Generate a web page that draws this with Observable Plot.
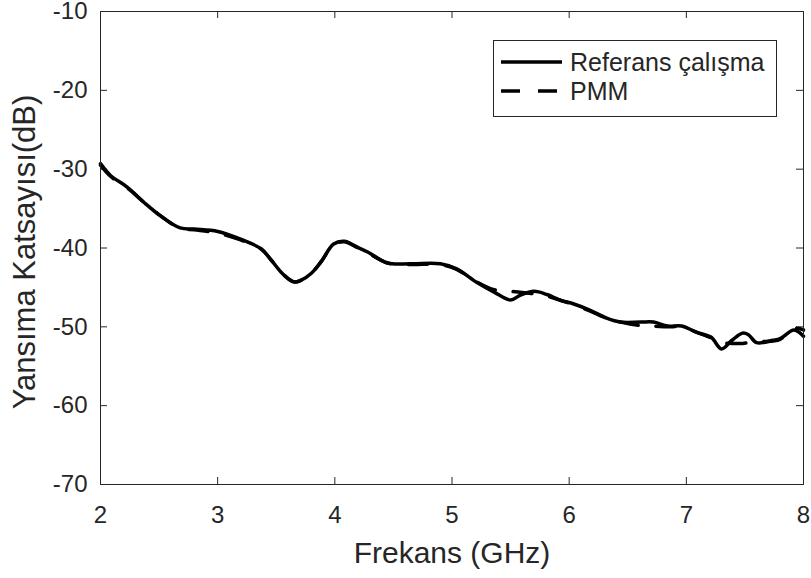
<!DOCTYPE html>
<html>
<head>
<meta charset="utf-8">
<script src="https://cdn.jsdelivr.net/npm/d3@7"></script>
<script src="https://cdn.jsdelivr.net/npm/@observablehq/plot@0.6"></script>
<style>
  html, body { margin: 0; padding: 0; background: #fff; }
  #wrap { position: relative; width: 811px; height: 578px; }
  #legend { position: absolute; left: 493px; top: 40px; }
</style>
</head>
<body>
<div id="wrap"></div>
<script>
// ---- data ----
const xTicks = [2, 3, 4, 5, 6, 7, 8];
const yTicks = [-70, -60, -50, -40, -30, -20, -10];

const refFreq = [2.0, 2.085, 2.23, 2.37, 2.51, 2.68, 2.80, 3.0, 3.19, 3.37, 3.45, 3.55, 3.65, 3.71, 3.8, 3.88, 3.99, 4.08, 4.19, 4.28, 4.45, 4.65, 4.90, 5.04, 5.21, 5.36, 5.50, 5.58, 5.70, 5.81, 5.92, 6.04, 6.18, 6.32, 6.44, 6.61, 6.72, 6.84, 6.96, 7.09, 7.21, 7.30, 7.39, 7.48, 7.53, 7.60, 7.74, 7.80, 7.92, 8.0];
const refDb = [-29.3, -30.8, -32.3, -34.2, -35.9, -37.45, -37.6, -37.9, -38.85, -40.1, -41.4, -43.2, -44.3, -44.1, -43.2, -41.8, -39.5, -39.15, -39.9, -40.5, -41.9, -42.0, -42.0, -42.65, -44.35, -45.6, -46.6, -46.0, -45.5, -45.9, -46.6, -47.1, -47.9, -48.9, -49.4, -49.4, -49.4, -49.9, -49.9, -50.7, -51.3, -52.8, -51.7, -50.8, -51.0, -52.0, -51.7, -51.5, -50.4, -51.2];

const pmmFreq = [2.0, 2.085, 2.23, 2.37, 2.51, 2.68, 2.80, 3.0, 3.19, 3.37, 3.45, 3.55, 3.65, 3.71, 3.8, 3.88, 3.99, 4.08, 4.19, 4.28, 4.45, 4.65, 4.90, 5.04, 5.21, 5.36, 5.44, 5.50, 5.58, 5.64, 5.70, 5.81, 5.92, 6.04, 6.18, 6.32, 6.44, 6.61, 6.72, 6.84, 6.96, 7.09, 7.21, 7.30, 7.39, 7.48, 7.53, 7.60, 7.74, 7.80, 7.92, 8.0];
const pmmDb = [-29.5, -30.9, -32.4, -34.2, -35.9, -37.5, -37.7, -38.1, -38.95, -40.1, -41.4, -43.2, -44.3, -44.1, -43.2, -41.8, -39.6, -39.2, -39.9, -40.6, -41.9, -42.1, -42.1, -42.7, -44.3, -45.3, -45.4, -45.5, -45.6, -45.7, -45.8, -46.1, -46.6, -47.2, -48.0, -48.9, -49.4, -49.85, -49.9, -50.0, -50.0, -50.7, -51.4, -52.0, -52.1, -52.1, -52.0, -51.9, -51.8, -51.6, -50.2, -50.4];

const seriesNames = ["Referans çalışma", "PMM"];
const xLabel = "Frekans (GHz)";
const yLabel = "Yansıma Katsayısı(dB)";

// ---- layout ----
const W = 811, H = 578;
const mL = 100, mR = 8, mT = 11, mB = 94;
const plotW = W - mL - mR, plotH = H - mT - mB;
const tickLen = 7;
const ink = "#262626";
const font = "'Liberation Sans', Arial, Helvetica, sans-serif";

const ref = refFreq.map((f, i) => ({f, db: refDb[i]}));
const pmm = pmmFreq.map((f, i) => ({f, db: pmmDb[i]}));

const chart = Plot.plot({
  width: W, height: H,
  marginLeft: mL, marginRight: mR, marginTop: mT, marginBottom: mB,
  style: {fontFamily: font, fontSize: "24px", color: ink, background: "#fff", overflow: "visible"},
  x: {domain: [2, 8]},
  y: {domain: [-70, -10]},
  marks: [
    Plot.axisX({ticks: xTicks, tickSize: 0, tickPadding: 21, tickFormat: d => String(d), label: null, fontSize: 24, fill: ink}),
    Plot.axisY({ticks: yTicks, tickSize: 0, tickPadding: 13, tickFormat: d => String(d), label: null, fontSize: 24, fill: ink}),
    // inward tick marks
    Plot.ruleX(xTicks, {x: d => d, insetTop: plotH - tickLen, stroke: ink, strokeWidth: 1}),
    Plot.ruleX(xTicks, {x: d => d, insetBottom: plotH - tickLen, stroke: ink, strokeWidth: 1}),
    Plot.ruleY(yTicks, {y: d => d, insetRight: plotW - tickLen, stroke: ink, strokeWidth: 1}),
    Plot.ruleY(yTicks, {y: d => d, insetLeft: plotW - tickLen, stroke: ink, strokeWidth: 1}),
    Plot.line(pmm, {x: "f", y: "db", stroke: "#000", strokeWidth: 3.5, strokeDasharray: "19,18", curve: "catmull-rom"}),
    Plot.line(ref, {x: "f", y: "db", stroke: "#000", strokeWidth: 3.5, curve: "catmull-rom"}),
    Plot.frame({stroke: ink, strokeWidth: 1}),
    Plot.text([xLabel], {frameAnchor: "bottom", dy: 69, lineAnchor: "middle", textAnchor: "middle", fontSize: 30, fill: ink, text: d => d}),
    Plot.text([yLabel], {frameAnchor: "left", dx: -75, dy: 4, rotate: -90, lineAnchor: "middle", textAnchor: "middle", fontSize: 31, fill: ink, text: d => d})
  ]
});

const wrap = document.getElementById("wrap");
wrap.appendChild(chart);

// ---- legend (overlay) ----
const lw = 284, lh = 77;
const ns = "http://www.w3.org/2000/svg";
const leg = document.createElementNS(ns, "svg");
leg.setAttribute("id", "legend");
leg.setAttribute("width", lw);
leg.setAttribute("height", lh);
const rect = document.createElementNS(ns, "rect");
rect.setAttribute("x", 0.5); rect.setAttribute("y", 0.5);
rect.setAttribute("width", lw - 1); rect.setAttribute("height", lh - 1);
rect.setAttribute("fill", "#fff"); rect.setAttribute("stroke", ink);
leg.appendChild(rect);
const rows = [{name: seriesNames[0], dash: null, y: 22}, {name: seriesNames[1], dash: "19,18", y: 51}];
rows.forEach(r => {
  const ln = document.createElementNS(ns, "line");
  ln.setAttribute("x1", 8); ln.setAttribute("x2", 69);
  ln.setAttribute("y1", r.y); ln.setAttribute("y2", r.y);
  ln.setAttribute("stroke", "#000"); ln.setAttribute("stroke-width", 3.5);
  if (r.dash) ln.setAttribute("stroke-dasharray", r.dash);
  leg.appendChild(ln);
  const t = document.createElementNS(ns, "text");
  t.setAttribute("x", 77); t.setAttribute("y", r.y);
  t.setAttribute("dy", "0.35em");
  t.setAttribute("font-family", font);
  t.setAttribute("font-size", 25);
  t.setAttribute("fill", ink);
  t.textContent = r.name;
  leg.appendChild(t);
});
wrap.appendChild(leg);
</script>
</body>
</html>
